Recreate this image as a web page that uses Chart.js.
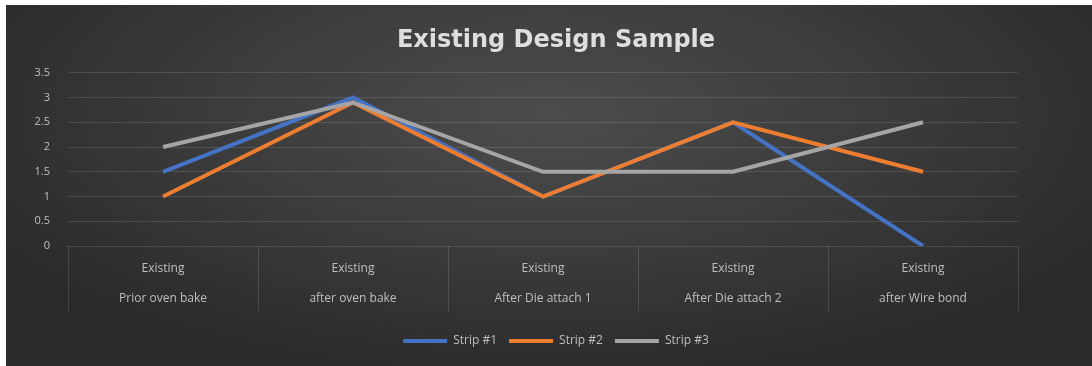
<!DOCTYPE html>
<html>
<head>
<meta charset="utf-8">
<script src="https://cdn.jsdelivr.net/npm/chart.js@4"></script>
<style>
  html, body { margin:0; padding:0; background:#ffffff; }
  #wrap {
    position:absolute; left:6px; top:5px; width:1086px; height:361px;
    background: radial-gradient(ellipse 60% 75% at 50% 30%, #4c4c4c 0%, #3c3c3c 50%, #2a2a2a 100%);
  }
  canvas { display:block; }
</style>
</head>
<body>
<div id="wrap"><canvas id="c" width="1086" height="361"></canvas></div>
<script>
const categories = [
  ["Existing", "Prior oven bake"],
  ["Existing", "after oven bake"],
  ["Existing", "After Die attach 1"],
  ["Existing", "After Die attach 2"],
  ["Existing", "after Wire bond"]
];
const seriesNames = ["Strip #1", "Strip #2", "Strip #3"];
const strip1 = [1.5, 3.0, 1.0, 2.5, 0.0];
const strip2 = [1.0, 2.9, 1.0, 2.5, 1.5];
const strip3 = [2.0, 2.9, 1.5, 1.5, 2.5];
const yTicks = [0, 0.5, 1, 1.5, 2, 2.5, 3, 3.5];
const colors = ["#4472c4", "#ed7d31", "#a5a5a5"];

const dividerPlugin = {
  id: 'dividers',
  afterDraw(chart) {
    const xs = chart.scales.x;
    const ctx = chart.ctx;
    const n = categories.length;
    const step = (xs.right - xs.left) / n;
    ctx.save();
    ctx.strokeStyle = 'rgba(255,255,255,0.13)';
    ctx.lineWidth = 1;
    for (let i = 0; i <= n; i++) {
      const x = Math.round(xs.left + i * step) + 0.5;
      ctx.beginPath();
      ctx.moveTo(x, xs.top);
      ctx.lineTo(x, xs.top + 65);
      ctx.stroke();
    }
    ctx.restore();
  }
};

const allSeries = [strip1, strip2, strip3];
new Chart(document.getElementById('c'), {
  type: 'line',
  data: {
    labels: categories,
    datasets: allSeries.map((d, i) => ({
      label: seriesNames[i],
      data: d,
      borderColor: colors[i],
      backgroundColor: colors[i],
      borderWidth: 4,
      pointRadius: 0,
      tension: 0,
      order: 3 - i,
      yAxisID: 'y'
    }))
  },
  options: {
    responsive: false,
    animation: false,
    layout: { padding: { left: 14, right: 0, top: 0, bottom: 9 } },
    plugins: {
      title: {
        display: true,
        text: 'Existing Design Sample',
        color: '#dedede',
        font: { family: 'DejaVu Sans', size: 24, weight: 'bold' },
        padding: { top: 21, bottom: 18 }
      },
      legend: {
        position: 'bottom',
        labels: {
          color: '#bfbfbf',
          font: { family: 'Open Sans', size: 12 },
          usePointStyle: true,
          pointStyle: 'line',
          pointStyleWidth: 44,
          boxHeight: 4,
          padding: 12,
          sort: (a, b) => a.datasetIndex - b.datasetIndex
        }
      },
      tooltip: { enabled: false }
    },
    scales: {
      x: {
        offset: true,
        grid: { display: false, drawTicks: false },
        border: { display: false },
        ticks: {
          color: '#bfbfbf',
          font: { family: 'Open Sans', size: 12, lineHeight: 2.45 },
          padding: 8,
          maxRotation: 0
        },
        afterFit: s => { s.height = 77; }
      },
      y: {
        min: 0,
        max: 3.5,
        afterBuildTicks: s => { s.ticks = yTicks.map(v => ({ value: v })); },
        grid: { color: 'rgba(255,255,255,0.12)', drawTicks: false },
        border: { display: false },
        ticks: {
          color: '#bfbfbf',
          font: { family: 'Open Sans', size: 11 },
          padding: 18,
          callback: v => String(v)
        },
        afterFit: s => { s.width = 48; }
      },
      yRight: {
        position: 'right',
        display: true,
        grid: { display: false, drawTicks: false },
        border: { display: false },
        ticks: { display: false },
        afterFit: s => { s.width = 74; }
      }
    }
  },
  plugins: [dividerPlugin]
});
</script>
</body>
</html>
